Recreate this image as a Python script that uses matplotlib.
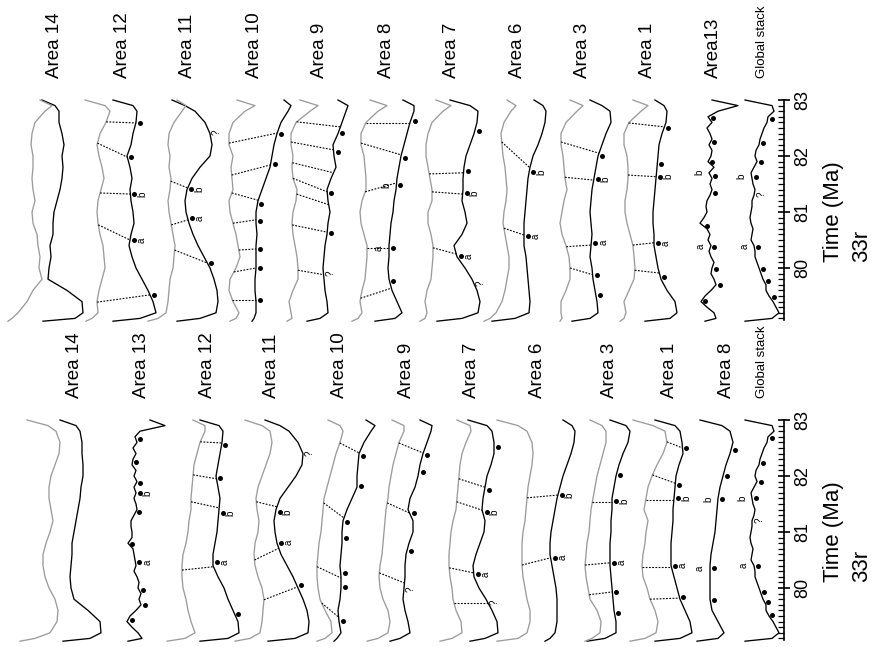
import numpy as np
import matplotlib.pyplot as plt

plt.rcParams['font.family'] = ['Liberation Sans', 'DejaVu Sans']

# time grids (Ma) at which the profiles were read
T_GRID = [83.0, 82.9, 82.8, 82.6, 82.4, 82.2, 82.0, 81.8, 81.6, 81.4, 81.2, 81.0,
          80.8, 80.6, 80.4, 80.2, 80.0, 79.8, 79.6, 79.4, 79.2, 79.1, 79.05]
T_FINE = [83.0, 82.9, 82.8, 82.7, 82.6, 82.5, 82.4, 82.3, 82.2, 82.1, 82.0, 81.9,
          81.8, 81.7, 81.6, 81.5, 81.4, 81.3, 81.2, 81.1, 81.0, 80.9, 80.8, 80.7,
          80.6, 80.5, 80.4, 80.3, 80.2, 80.1, 80.0, 79.9, 79.8, 79.7, 79.6, 79.5,
          79.4, 79.3, 79.2, 79.1, 79.05]

# ---------------- upper panel: profile amplitudes ----------------
TOP_A14_BLACK = [-13, 0, 4, 4, 7, 9, 7, 8, 7, 5, 2, -1, -2, -2, -5, -4, -6, -7, 12, 27, 28, 20, -12]
TOP_A14_GRAY = [-15, -3, -10, -20, -23, -24, -22, -22, -23, -22, -20, -23, -22, -18, -17, -15, -16, -13, -22, -28, -37, -43, -47]
TOP_A12_BLACK = [-10, 10, 14, 13, 10, 8, 4, 7, 9, 7, 8, 10, 11, 8, 6, 9, 13, 19, 25, 30, 33, 17, -10]
TOP_A12_GRAY = [-38, -18, -13, -17, -23, -26, -24, -21, -19, -22, -25, -26, -25, -23, -20, -19, -18, -21, -24, -26, -25, -31, -37]
TOP_A11_BLACK = [-16, -3, 7, 17, 22, 24, 22, 12, 4, -1, -3, -2, 1, 5, 10, 16, 22, 26, 29, 30, 28, 12, -11]
TOP_A11_GRAY = [-11, -2, -6, -14, -19, -20, -18, -19, -17, -18, -20, -19, -17, -15, -13, -14, -15, -18, -19, -20, -22, -30, -40]
TOP_A10_BLACK = [29, 36, 33, 26, 22, 19, 17, 15, 11, 7, 3, 1, 1, 2, 1, 1, 1, 0, 0, 1, 1, -1, -3]
TOP_A10_GRAY = [-18, 0, -10, -22, -26, -26, -22, -24, -23, -22, -26, -25, -22, -19, -17, -15, -19, -25, -26, -22, -16, -19, -25]
TOP_A9_BLACK = [18, 28, 26, 22, 18, 13, 14, 16, 11, 7, 8, 10, 8, 7, 5, 4, 3, 4, 5, 7, 8, 0, -13]
TOP_A9_GRAY = [-20, -2, -10, -24, -29, -29, -27, -28, -27, -23, -24, -27, -28, -27, -25, -23, -22, -22, -27, -31, -29, -28, -33]
TOP_A8_BLACK = [16, 27, 27, 23, 20, 17, 14, 12, 10, 9, 7, 6, 4, 3, 2, 2, 1, 2, 5, 10, 15, 8, -12]
TOP_A8_GRAY = [-17, 0, -9, -21, -26, -26, -23, -22, -21, -21, -25, -27, -26, -23, -20, -20, -21, -22, -25, -27, -25, -29, -35]
TOP_A7_BLACK = [-2, 18, 26, 25, 22, 18, 14, 12, 11, 11, 10, 13, 15, 10, 2, 5, 13, 20, 25, 28, 26, 10, -15]
TOP_A7_GRAY = [-16, -1, -9, -20, -24, -26, -26, -24, -22, -20, -20, -24, -24, -21, -19, -19, -20, -21, -25, -27, -25, -27, -32]
TOP_A6_BLACK = [16, 25, 28, 27, 24, 20, 15, 12, 10, 9, 8, 7, 6, 6, 6, 8, 9, 10, 11, 12, 11, -3, -26]
TOP_A6_GRAY = [-11, -2, -7, -14, -17, -16, -15, -13, -12, -11, -12, -14, -15, -13, -11, -9, -9, -11, -13, -16, -22, -28, -34]
TOP_A3_BLACK = [7, 19, 27, 28, 23, 19, 15, 13, 11, 9, 8, 7, 8, 9, 8, 7, 9, 10, 12, 14, 15, 7, -11]
TOP_A3_GRAY = [-13, 0, -6, -17, -22, -22, -20, -19, -18, -16, -19, -21, -23, -21, -17, -14, -13, -13, -17, -22, -22, -21, -23]
TOP_A1_BLACK = [7, 16, 19, 18, 14, 11, 10, 9, 8, 7, 6, 5, 5, 6, 6, 8, 10, 13, 19, 27, 29, 22, -3]
TOP_A1_GRAY = [-15, 0, -7, -19, -24, -24, -21, -20, -20, -21, -23, -23, -21, -18, -15, -14, -13, -14, -19, -24, -22, -24, -28]
TOP_A13_BLACK = [-1, 25, 5, -5, -1, -6, -3, -1, -4, -1, -2, -5, 1, -4, -1, -3, -1, -3, -6, -7,
                 -6, -9, -13, -6, -3, -5, -2, -4, -2, 1, -1, -2, 1, 3, -2, -8, -12, -6, 1, 3, -8]
GLOBAL_STACK = [-17, 10, 12, 6, 5, 2, 0, -2, -3, -6, -7, -5, -8, -11, -10, -9, -7, -8, -10, -10,
                -11, -12, -11, -9, -10, -11, -8, -7, -7, -5, -3, -1, 1, 4, 4, 7, 11, 14, 17, 10, -17]

# upper panel: tie lines (grey time, black time), picks and pick labels
TOP_A12_LINKS = [(82.61, 82.59), (82.23, 81.98), (81.34, 81.32), (80.77, 80.5), (79.39, 79.52)]
TOP_A11_LINKS = [(81.55, 81.43), (80.77, 80.86), (80.32, 80.09)]
TOP_A10_LINKS = [(82.23, 82.41), (81.66, 81.84), (81.34, 81.21), (80.8, 80.86), (80.32, 80.34), (79.93, 80.0), (79.43, 79.43)]
TOP_A9_LINKS = [(82.61, 82.52), (82.25, 82.11), (81.88, 81.7), (81.6, 81.36), (81.32, 81.13), (80.77, 80.64), (79.96, 79.88)]
TOP_A8_LINKS = [(82.59, 82.59), (82.23, 82.02), (81.36, 81.52), (80.36, 80.36), (79.46, 79.64)]
TOP_A7_LINKS = [(81.68, 81.7), (81.36, 81.32), (80.36, 80.25)]
TOP_A6_LINKS = [(82.25, 81.79), (80.71, 80.59)]
TOP_A3_LINKS = [(82.25, 82.05), (81.62, 81.57), (80.38, 80.41), (80.0, 79.88)]
TOP_A1_LINKS = [(82.59, 82.52), (81.66, 81.63), (80.41, 80.45), (79.96, 79.91)]

TOP_A12_DOTS = [82.59, 81.98, 81.32, 80.5, 79.52]
TOP_A11_DOTS = [81.41, 80.89, 80.09]
TOP_A10_DOTS = [82.39, 81.86, 81.14, 80.84, 80.34, 80.0, 79.43]
TOP_A9_DOTS = [82.41, 82.07, 81.34, 80.63]
TOP_A8_DOTS = [82.63, 81.96, 81.48, 80.36, 79.77]
TOP_A7_DOTS = [82.45, 81.73, 81.34, 80.21]
TOP_A6_DOTS = [81.71, 80.57]
TOP_A3_DOTS = [82.0, 81.59, 80.45, 79.88, 79.52]
TOP_A1_DOTS = [82.5, 81.86, 81.63, 80.44, 79.84]
TOP_A13_DOTS = [82.68, 82.25, 81.9, 81.64, 81.34, 80.75, 80.37, 79.98, 79.7, 79.41]
TOP_GS_DOTS = [82.66, 82.23, 81.9, 81.63, 80.38, 79.98, 79.77, 79.48]

TOP_A12_TAGS = [(81.32, 'b'), (80.5, 'a')]
TOP_A11_TAGS = [(81.41, 'b'), (80.89, 'a'), (82.43, '?')]
TOP_A9_TAGS = [(79.91, '?')]
TOP_A8_TAGS = [(81.48, 'b'), (80.36, 'a')]
TOP_A7_TAGS = [(81.34, 'b'), (80.21, 'a'), (79.73, '?')]
TOP_A6_TAGS = [(81.71, 'b'), (80.57, 'a')]
TOP_A3_TAGS = [(81.59, 'b'), (80.45, 'a')]
TOP_A1_TAGS = [(81.63, 'b'), (80.44, 'a')]
TOP_A13_TAGS = [(81.71, 'b'), (80.38, 'a')]
TOP_GS_TAGS = [(81.63, 'b'), (80.38, 'a'), (81.32, '?')]

TOP_NAMES = ['Area 14', 'Area 12', 'Area 11', 'Area 10', 'Area 9', 'Area 8', 'Area 7',
             'Area 6', 'Area 3', 'Area 1', 'Area13', 'Global stack']

# ---------------- lower panel ----------------
BOT_A14_BLACK = [-15, 1, 5, 7, 7, 8, 8, 6, 5, 3, 1, -1, -3, -3, -4, -5, -4, -1, 13, 25, 26, 15, -12]
BOT_A14_GRAY = [-48, -27, -19, -15, -16, -20, -24, -26, -26, -24, -22, -25, -29, -32, -32, -30, -26, -20, -17, -18, -25, -40, -55]
BOT_A13_BLACK = [8, 23, -2, -7, -5, -9, -6, -9, -10, -6, -8, -5, -8, -6, -8, -6, -5, -8, -11, -11,
                 -10, -10, -14, -9, -8, -7, -6, -8, -5, -3, -4, -1, -3, -1, -6, -12, -15, -10, -4, 0, -14]
BOT_A12_BLACK = [-8, 11, 15, 14, 12, 10, 8, 10, 12, 11, 10, 9, 7, 5, 5, 10, 16, 20, 25, 30, 31, 20, -8]
BOT_A12_GRAY = [-15, -3, -3, -8, -11, -14, -15, -16, -17, -17, -19, -20, -22, -25, -26, -26, -25, -22, -20, -17, -13, -23, -41]
BOT_A11_BLACK = [-7, 8, 17, 26, 31, 30, 24, 16, 8, 4, 2, 3, 5, 9, 15, 21, 26, 31, 35, 37, 36, 23, -4]
BOT_A11_GRAY = [-27, -10, -2, 0, -2, -6, -10, -14, -16, -15, -13, -14, -17, -18, -17, -14, -10, -8, -9, -10, -12, -22, -37]
BOT_A10_BLACK = [26, 35, 31, 24, 19, 18, 17, 17, 12, 7, 3, 2, 2, 1, 0, 1, 1, 0, -2, -1, 1, -3, -6]
BOT_A10_GRAY = [-12, 0, 3, 0, -4, -7, -10, -13, -16, -17, -18, -19, -21, -22, -23, -23, -22, -20, -15, -9, -8, -15, -23]
BOT_A9_BLACK = [13, 25, 24, 20, 16, 13, 11, 8, 3, 1, 6, 6, 2, -1, -2, -2, -3, -4, -2, 1, 3, -7, -17]
BOT_A9_GRAY = [-15, -3, -3, -8, -11, -14, -16, -18, -19, -21, -22, -23, -24, -25, -27, -28, -27, -24, -19, -17, -19, -29, -40]
BOT_A7_BLACK = [-4, 15, 20, 22, 22, 19, 15, 13, 11, 10, 13, 12, 8, 4, 1, 2, 7, 14, 20, 25, 26, 13, -2]
BOT_A7_GRAY = [-15, -2, -1, -6, -10, -12, -13, -14, -15, -16, -19, -21, -22, -23, -23, -22, -20, -19, -16, -11, -10, -20, -32]
BOT_A6_BLACK = [25, 34, 37, 36, 33, 29, 25, 22, 19, 17, 15, 13, 12, 12, 14, 16, 18, 19, 19, 19, 17, 12, 7]
BOT_A6_GRAY = [-41, -20, -11, -6, -5, -6, -8, -10, -11, -12, -13, -15, -16, -16, -16, -15, -13, -11, -8, -8, -11, -20, -41]
BOT_A3_BLACK = [0, 16, 20, 18, 13, 9, 6, 4, 2, 2, 1, 1, 0, 0, 0, 1, 2, 3, 4, 6, 6, -5, -23]
BOT_A3_GRAY = [-20, -8, -4, -4, -7, -10, -13, -15, -17, -19, -20, -21, -23, -24, -25, -24, -22, -20, -13, -9, -10, -18, -25]
BOT_A1_BLACK = [-15, 5, 10, 12, 13, 9, 6, 5, 4, 3, 3, 2, 1, 1, 1, 4, 7, 10, 15, 20, 22, 10, -15]
BOT_A1_GRAY = [-37, -17, -5, -3, -7, -13, -18, -22, -24, -26, -22, -24, -25, -27, -28, -27, -23, -20, -15, -12, -14, -25, -40]
BOT_A8_BLACK = [-27, -5, 3, 6, 3, -1, -4, -7, -9, -10, -11, -12, -14, -16, -17, -17, -17, -17, -15, -9, -3, -9, -30]

BOT_A12_LINKS = [(82.61, 82.59), (82.02, 81.95), (81.54, 81.43), (80.32, 80.38)]
BOT_A11_LINKS = [(81.54, 81.45), (80.5, 80.71), (79.79, 80.02)]
BOT_A10_LINKS = [(82.59, 82.41), (81.52, 81.25), (80.38, 80.18), (79.73, 79.48)]
BOT_A9_LINKS = [(82.59, 82.41), (81.52, 81.34), (80.27, 80.09)]
BOT_A7_LINKS = [(81.95, 81.8), (81.54, 81.39), (80.36, 80.27), (79.73, 79.73)]
BOT_A6_LINKS = [(81.61, 81.66), (80.41, 80.54)]
BOT_A3_LINKS = [(81.54, 81.54), (80.41, 80.45), (79.88, 79.93)]
BOT_A1_LINKS = [(82.61, 82.5), (82.02, 81.87), (81.57, 81.57), (80.38, 80.38), (79.8, 79.82)]

BOT_A13_DOTS = [82.66, 82.25, 81.88, 81.69, 81.35, 80.79, 80.46, 79.97, 79.7, 79.43]
BOT_A12_DOTS = [82.55, 81.96, 81.34, 80.46, 79.54]
BOT_A11_DOTS = [81.36, 80.81, 80.05]
BOT_A10_DOTS = [82.36, 81.82, 81.18, 80.9, 80.27, 80.02, 79.41]
BOT_A9_DOTS = [82.38, 82.08, 81.34, 80.66]
BOT_A7_DOTS = [82.51, 81.75, 81.35, 80.25]
BOT_A6_DOTS = [81.66, 80.54]
BOT_A3_DOTS = [82.02, 81.55, 80.45, 79.92, 79.55]
BOT_A1_DOTS = [82.5, 81.84, 81.61, 80.4, 79.84]
BOT_A8_DOTS = [82.46, 82.0, 81.59, 80.36, 79.79]
BOT_GS_DOTS = [82.67, 82.23, 81.9, 81.6, 80.4, 79.93, 79.75, 79.52]

BOT_A13_TAGS = [(81.69, 'b'), (80.46, 'a')]
BOT_A12_TAGS = [(81.34, 'b'), (80.46, 'a')]
BOT_A11_TAGS = [(81.36, 'b'), (80.81, 'a'), (82.41, '?')]
BOT_A9_TAGS = [(79.97, '?')]
BOT_A7_TAGS = [(81.35, 'b'), (80.25, 'a'), (79.75, '?')]
BOT_A6_TAGS = [(81.66, 'b'), (80.54, 'a')]
BOT_A3_TAGS = [(81.55, 'b'), (80.45, 'a')]
BOT_A1_TAGS = [(81.61, 'b'), (80.4, 'a')]
BOT_A8_TAGS = [(81.59, 'b'), (80.36, 'a')]
BOT_GS_TAGS = [(81.6, 'b'), (80.4, 'a'), (81.21, '?')]

BOT_NAMES = ['Area 14', 'Area 13', 'Area 12', 'Area 11', 'Area 10', 'Area 9', 'Area 7',
             'Area 6', 'Area 3', 'Area 1', 'Area 8', 'Global stack']

TIME_TICKS = [80, 81, 82, 83]

# ---------------- layout ----------------
TOP_BASE = [55, 123, 188, 255, 320, 387, 452, 518, 583, 648, 713, 762]
BOT_BASE = [75, 142, 208, 272, 340, 407, 472, 538, 610, 670, 727, 762]
LEFT_TAGS = {'Area13', 'Area 8', 'Global stack'}
GREY = '#9b9b9b'

TOP_BLACK = [TOP_A14_BLACK, TOP_A12_BLACK, TOP_A11_BLACK, TOP_A10_BLACK, TOP_A9_BLACK, TOP_A8_BLACK,
             TOP_A7_BLACK, TOP_A6_BLACK, TOP_A3_BLACK, TOP_A1_BLACK, TOP_A13_BLACK, GLOBAL_STACK]
TOP_GRAY = [TOP_A14_GRAY, TOP_A12_GRAY, TOP_A11_GRAY, TOP_A10_GRAY, TOP_A9_GRAY, TOP_A8_GRAY,
            TOP_A7_GRAY, TOP_A6_GRAY, TOP_A3_GRAY, TOP_A1_GRAY, None, None]
TOP_LINKS = [[], TOP_A12_LINKS, TOP_A11_LINKS, TOP_A10_LINKS, TOP_A9_LINKS, TOP_A8_LINKS,
             TOP_A7_LINKS, TOP_A6_LINKS, TOP_A3_LINKS, TOP_A1_LINKS, [], []]
TOP_DOTS = [[], TOP_A12_DOTS, TOP_A11_DOTS, TOP_A10_DOTS, TOP_A9_DOTS, TOP_A8_DOTS,
            TOP_A7_DOTS, TOP_A6_DOTS, TOP_A3_DOTS, TOP_A1_DOTS, TOP_A13_DOTS, TOP_GS_DOTS]
TOP_TAGS = [[], TOP_A12_TAGS, TOP_A11_TAGS, [], TOP_A9_TAGS, TOP_A8_TAGS,
            TOP_A7_TAGS, TOP_A6_TAGS, TOP_A3_TAGS, TOP_A1_TAGS, TOP_A13_TAGS, TOP_GS_TAGS]

BOT_BLACK = [BOT_A14_BLACK, BOT_A13_BLACK, BOT_A12_BLACK, BOT_A11_BLACK, BOT_A10_BLACK, BOT_A9_BLACK,
             BOT_A7_BLACK, BOT_A6_BLACK, BOT_A3_BLACK, BOT_A1_BLACK, BOT_A8_BLACK, GLOBAL_STACK]
BOT_GRAY = [BOT_A14_GRAY, None, BOT_A12_GRAY, BOT_A11_GRAY, BOT_A10_GRAY, BOT_A9_GRAY,
            BOT_A7_GRAY, BOT_A6_GRAY, BOT_A3_GRAY, BOT_A1_GRAY, None, None]
BOT_LINKS = [[], [], BOT_A12_LINKS, BOT_A11_LINKS, BOT_A10_LINKS, BOT_A9_LINKS,
             BOT_A7_LINKS, BOT_A6_LINKS, BOT_A3_LINKS, BOT_A1_LINKS, [], []]
BOT_DOTS = [[], BOT_A13_DOTS, BOT_A12_DOTS, BOT_A11_DOTS, BOT_A10_DOTS, BOT_A9_DOTS,
            BOT_A7_DOTS, BOT_A6_DOTS, BOT_A3_DOTS, BOT_A1_DOTS, BOT_A8_DOTS, BOT_GS_DOTS]
BOT_TAGS = [[], BOT_A13_TAGS, BOT_A12_TAGS, BOT_A11_TAGS, [], BOT_A9_TAGS,
            BOT_A7_TAGS, BOT_A6_TAGS, BOT_A3_TAGS, BOT_A1_TAGS, BOT_A8_TAGS, BOT_GS_TAGS]


def on_curve(tgrid, amp, base, t):
    # x position of a profile at time t
    return base + np.interp(t, tgrid[::-1], amp[::-1])


def draw_panel(ax, names, bases, blacks, grays, links, dots, tags):
    for i, name in enumerate(names):
        x0 = bases[i]
        blk = np.array(blacks[i], dtype=float)
        tb = np.array(T_FINE if len(blk) == len(T_FINE) else T_GRID)
        ax.plot(x0 + blk, tb, color='black', lw=0.95, solid_joinstyle='round')
        if grays[i] is not None:
            gr = np.array(grays[i], dtype=float)
            tg = np.array(T_GRID)
            ax.plot(x0 + gr, tg, color=GREY, lw=0.95)
            for t1, t2 in links[i]:
                ax.plot([on_curve(tg, gr, x0, t1), on_curve(tb, blk, x0, t2)], [t1, t2],
                        color='black', lw=0.8, dashes=(1.6, 1.3))
        for t in dots[i]:
            ax.plot(on_curve(tb, blk, x0, t) + 4, t, 'o', ms=3.6, color='black', mew=0)
        for t, s in tags[i]:
            if s == '?':
                dx = 7
            elif name in LEFT_TAGS:
                dx = -10
            else:
                dx = 12
            ax.text(on_curve(tb, blk, x0, t) + dx, t, s, rotation=90, fontsize=7,
                    ha='center', va='center')
        size = 9.5 if name == 'Global stack' else 13.5
        ax.text(x0, 83.39, name, rotation=90, ha='center', va='bottom', fontsize=size)

    ax.set_xlim(0, 784)
    ax.set_ylim(79.0, 83.1)
    for s in ['top', 'bottom', 'left']:
        ax.spines[s].set_visible(False)
    ax.spines['right'].set_bounds(79.07, 83.0)
    ax.spines['right'].set_linewidth(1.2)
    ax.xaxis.set_visible(False)
    ax.yaxis.tick_right()
    ax.set_yticks(TIME_TICKS)
    ax.set_yticks(np.round(np.arange(79.1, 83.0, 0.1), 1), minor=True)
    ax.tick_params(axis='y', which='major', length=9, width=1.2, direction='inout',
                   labelsize=13, pad=3, labelrotation=90)
    ax.tick_params(axis='y', which='minor', length=4, width=0.9, direction='in')
    for lbl in ax.get_yticklabels():
        lbl.set_va('center')
    # axis title and chron name share their lower end
    ax.text(834, 80.1, 'Time (Ma)', rotation=90, ha='center', va='bottom', fontsize=16)
    ax.text(862, 80.1, '33r', rotation=90, ha='center', va='bottom', fontsize=16)


W, H = 873, 647
fig = plt.figure(figsize=(W / 100, H / 100), dpi=100)
ax_top = fig.add_axes([0, 1 - 324 / H, 784 / W, 229.6 / H])
ax_bot = fig.add_axes([0, 1 - 644 / H, 784 / W, 229.6 / H])

draw_panel(ax_top, TOP_NAMES, TOP_BASE, TOP_BLACK, TOP_GRAY, TOP_LINKS, TOP_DOTS, TOP_TAGS)
draw_panel(ax_bot, BOT_NAMES, BOT_BASE, BOT_BLACK, BOT_GRAY, BOT_LINKS, BOT_DOTS, BOT_TAGS)

fig.savefig('out.png', dpi=100)
